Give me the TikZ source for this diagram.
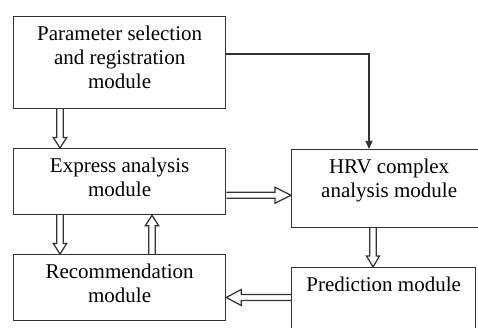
\documentclass[tikz,border=0pt]{standalone}
\usepackage{fontspec}
\setmainfont{Liberation Serif}
\usetikzlibrary{calc,arrows.meta}

% Hollow block arrow from coordinate #2 to coordinate #3.
% Optional: head length; #4 and #5: shaft and head half-widths.
\newcommand\fatconn[5][10pt]{%
  \path ($(#3)!#1!(#2)$) coordinate (fb);
  \draw[wire]
    ($(#2)!#4!90:(#3)$) -- ($(fb)!#4!90:(#3)$) -- ($(fb)!#5!90:(#3)$)
    -- (#3)
    -- ($(fb)!#5!-90:(#3)$) -- ($(fb)!#4!-90:(#3)$) -- ($(#2)!#4!-90:(#3)$);
}

\begin{document}
\begin{tikzpicture}[x=1pt,y=1pt,
  wire/.style={draw=black!80,line width=1.25pt,line join=miter},
  box/.style={wire,rectangle,anchor=north west,inner sep=0pt},
  txt/.style={anchor=north,yshift=-10.2pt,inner sep=0pt,align=center,
    font=\fontsize{21}{24}\selectfont,text=black}]
\useasboundingbox (0,0) rectangle (478,328);
\clip (0,0) rectangle (478,328);

% module boxes
\node[box,minimum width=212pt,minimum height=92pt,
  label={[txt]north:{Parameter selection\\and registration\\module}}] (ps) at (13,312) {};
\node[box,minimum width=212pt,minimum height=66pt,
  label={[txt]north:{Express analysis\\module}}] (ex) at (13,180) {};
\node[box,minimum width=212pt,minimum height=66pt,
  label={[txt]north:{Recommendation\\module}}] (rc) at (13,74) {};
\node[box,minimum width=195pt,minimum height=78pt,
  label={[txt]north:{HRV complex\\analysis module}}] (hv) at (291,179) {};
\node[box,minimum width=184pt,minimum height=90pt,
  label={[txt]north:{Prediction module}}] (pd) at (291,61) {};

% connector end points on the box edges
\coordinate (a1) at ($(ps.south west)+(47,0)$);
\coordinate (a1t) at (a1 |- ex.north);
\coordinate (a2) at ($(ex.south west)+(47,0)$);
\coordinate (a2t) at (a2 |- rc.north);
\coordinate (a3) at ($(rc.north west)+(139,0)$);
\coordinate (a3t) at (a3 |- ex.south);
\coordinate (a4) at ($(ex.south east)+(0,20)$);
\coordinate (a4t) at (a4 -| hv.west);
\coordinate (a5) at ($(hv.south west)+(82,0)$);
\coordinate (a5t) at (a5 |- pd.north);
\coordinate (a6) at ($(pd.north west)+(0,-30.5)$);
\coordinate (a6t) at (a6 -| rc.east);
\coordinate (s1) at ($(ps.north east)+(0,-38)$);
\coordinate (s1t) at ($(hv.north west)+(78,0)$);

% hollow block arrows
\fatconn[10.5pt]{a1}{a1t}{3.2pt}{6.7pt}
\fatconn[10.5pt]{a2}{a2t}{3.2pt}{6.7pt}
\fatconn[10.5pt]{a3}{a3t}{3.2pt}{6.7pt}
\fatconn[16pt]{a4}{a4t}{2.9pt}{8pt}
\fatconn[11pt]{a5}{a5t}{3.2pt}{6.5pt}
\fatconn[15pt]{a6}{a6t}{2.9pt}{8pt}

% thin elbow arrow
\draw[wire,-{Triangle[length=8pt,width=7pt]}] (s1) -| (s1t);
\end{tikzpicture}
\end{document}
